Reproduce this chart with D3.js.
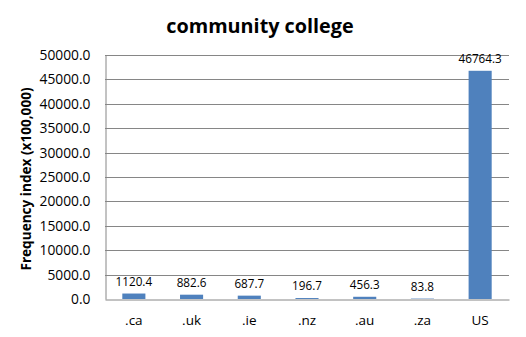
<!DOCTYPE html>
<html><head><meta charset="utf-8">
<script src="https://cdn.jsdelivr.net/npm/d3@7"></script>
<style>body{margin:0;background:#fff}svg{display:block}text{font-family:"Open Sans",sans-serif}</style>
</head><body>
<script>
const categories = [".ca", ".uk", ".ie", ".nz", ".au", ".za", "US"];
const values = [1120.4, 882.6, 687.7, 196.7, 456.3, 83.8, 46764.3];
const yTicks = [0, 5000, 10000, 15000, 20000, 25000, 30000, 35000, 40000, 45000, 50000];
const title = "community college";
const yTitle = "Frequency index (x100,000)";

const W = 526, H = 337;
const m = {left: 105, right: 17, top: 55, bottom: 38};
const svg = d3.select("body").append("svg").attr("width", W).attr("height", H);
const x = d3.scaleBand().domain(categories).range([m.left, W - m.right]).paddingInner(0.6).paddingOuter(0.3);
const y = d3.scaleLinear().domain([0, 50000]).range([H - m.bottom, m.top]);

// gridlines
svg.append("g").selectAll("line").data(yTicks.slice(1)).join("line")
  .attr("x1", m.left).attr("x2", W - m.right)
  .attr("y1", d => Math.round(y(d)) + 0.5).attr("y2", d => Math.round(y(d)) + 0.5)
  .attr("stroke", "#868686").attr("stroke-width", 1);

// y axis
const ya = svg.append("g").attr("transform", `translate(${m.left + 0.5},0)`)
  .call(d3.axisLeft(y).tickValues(yTicks).tickSize(0).tickPadding(15).tickFormat(d3.format(".1f")));
ya.select(".domain").attr("stroke", "#868686");
ya.selectAll("text").attr("font-size", 13.8).attr("fill", "#000").attr("font-family", "Open Sans");

// bars
svg.append("g").selectAll("rect").data(values).join("rect")
  .attr("x", (d, i) => x(categories[i])).attr("width", x.bandwidth())
  .attr("y", d => y(d)).attr("height", d => y(0) - y(d))
  .attr("fill", "#4F81BD");

// x axis
const xa = svg.append("g").attr("transform", `translate(0,${Math.round(y(0)) + 0.5})`)
  .call(d3.axisBottom(x).tickSize(0).tickPadding(16));
xa.select(".domain").attr("stroke", "#868686");
xa.selectAll("text").attr("font-size", 13.5).attr("fill", "#000").attr("font-family", "Open Sans");

// data labels
svg.append("g").selectAll("text").data(values).join("text")
  .attr("x", (d, i) => x(categories[i]) + x.bandwidth() / 2)
  .attr("y", d => y(d) - 8)
  .attr("text-anchor", "middle").attr("font-size", 11.7).attr("fill", "#000")
  .text(d => d3.format(".1f")(d));

// title
svg.append("text").attr("x", 260).attr("y", 33).attr("text-anchor", "middle")
  .attr("font-size", 19.8).attr("font-weight", "bold").text(title);

// y title
svg.append("text").attr("transform", "translate(31,179) rotate(-90)")
  .attr("text-anchor", "middle").attr("font-size", 13.6).attr("font-weight", "bold").text(yTitle);
</script>
</body></html>
